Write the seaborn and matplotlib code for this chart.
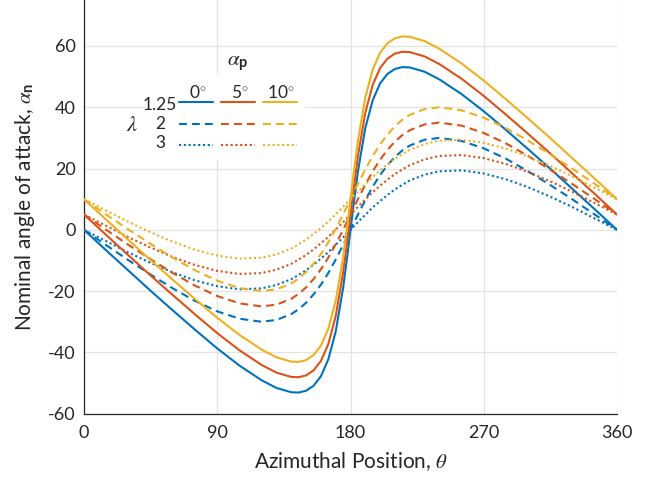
import matplotlib
matplotlib.use("Agg")
import matplotlib.pyplot as plt
from matplotlib.lines import Line2D
from matplotlib.patches import Rectangle
import numpy as np
import pandas as pd
import seaborn as sns

# ---------------- data ----------------
theta = [0, 15, 30, 45, 60, 75, 90, 105, 120, 130, 140, 145, 150, 155, 160, 165, 170, 175, 178, 180,
         182, 185, 190, 195, 200, 205, 210, 215, 220, 230, 240, 255, 270, 285, 300, 315, 330, 345, 360]

# lambda = 1.25
l125_p0 = [0, -6.7, -13.3, -19.9, -26.3, -32.6, -38.7, -44.3, -49.1, -51.6, -53.0, -53.1, -52.5, -50.9, -47.8, -42.3, -33.2, -19.0, -7.9, 0,
           7.9, 19.0, 33.2, 42.3, 47.8, 50.9, 52.5, 53.1, 53.0, 51.6, 49.1, 44.3, 38.7, 32.6, 26.3, 19.9, 13.3, 6.7, 0]
l125_p5 = [5, -1.7, -8.3, -14.9, -21.3, -27.6, -33.7, -39.3, -44.1, -46.6, -48.0, -48.1, -47.5, -45.9, -42.8, -37.3, -28.2, -14.0, -2.9, 5,
           12.9, 24.0, 38.2, 47.3, 52.8, 55.9, 57.5, 58.1, 58.0, 56.6, 54.1, 49.3, 43.7, 37.6, 31.3, 24.9, 18.3, 11.7, 5]
l125_p10 = [10, 3.3, -3.3, -9.9, -16.3, -22.6, -28.7, -34.3, -39.1, -41.6, -43.0, -43.1, -42.5, -40.9, -37.8, -32.3, -23.2, -9.0, 2.1, 10,
            17.9, 29.0, 43.2, 52.3, 57.8, 60.9, 62.5, 63.1, 63.0, 61.6, 59.1, 54.3, 48.7, 42.6, 36.3, 29.9, 23.3, 16.7, 10]
# lambda = 2
l2_p0 = [0, -5.0, -9.9, -14.6, -19.1, -23.2, -26.6, -29.0, -30.0, -29.4, -27.5, -25.9, -23.8, -21.1, -17.9, -14.1, -9.7, -5.0, -2.0, 0,
         2.0, 5.0, 9.7, 14.1, 17.9, 21.1, 23.8, 25.9, 27.5, 29.4, 30.0, 29.0, 26.6, 23.2, 19.1, 14.6, 9.9, 5.0, 0]
l2_p5 = [5, 0.0, -4.9, -9.6, -14.1, -18.2, -21.6, -24.0, -25.0, -24.4, -22.5, -20.9, -18.8, -16.1, -12.9, -9.1, -4.7, 0.0, 3.0, 5,
         7.0, 10.0, 14.7, 19.1, 22.9, 26.1, 28.8, 30.9, 32.5, 34.4, 35.0, 34.0, 31.6, 28.2, 24.1, 19.6, 14.9, 10.0, 5]
l2_p10 = [10, 5.0, 0.1, -4.6, -9.1, -13.2, -16.6, -19.0, -20.0, -19.4, -17.5, -15.9, -13.8, -11.1, -7.9, -4.1, 0.3, 5.0, 8.0, 10,
          12.0, 15.0, 19.7, 24.1, 27.9, 31.1, 33.8, 35.9, 37.5, 39.4, 40.0, 39.0, 36.6, 33.2, 29.1, 24.6, 19.9, 15.0, 10]
# lambda = 3
l3_p0 = [0, -3.7, -7.4, -10.8, -13.9, -16.5, -18.4, -19.4, -19.1, -18.0, -16.1, -14.7, -13.2, -11.4, -9.4, -7.3, -4.9, -2.5, -1.0, 0,
         1.0, 2.5, 4.9, 7.3, 9.4, 11.4, 13.2, 14.7, 16.1, 18.0, 19.1, 19.4, 18.4, 16.5, 13.9, 10.8, 7.4, 3.7, 0]
l3_p5 = [5, 1.3, -2.4, -5.8, -8.9, -11.5, -13.4, -14.4, -14.1, -13.0, -11.1, -9.7, -8.2, -6.4, -4.4, -2.3, 0.1, 2.5, 4.0, 5,
         6.0, 7.5, 9.9, 12.3, 14.4, 16.4, 18.2, 19.7, 21.1, 23.0, 24.1, 24.4, 23.4, 21.5, 18.9, 15.8, 12.4, 8.7, 5]
l3_p10 = [10, 6.3, 2.6, -0.8, -3.9, -6.5, -8.4, -9.4, -9.1, -8.0, -6.1, -4.7, -3.2, -1.4, 0.6, 2.7, 5.1, 7.5, 9.0, 10,
          11.0, 12.5, 14.9, 17.3, 19.4, 21.4, 23.2, 24.7, 26.1, 28.0, 29.1, 29.4, 28.4, 26.5, 23.9, 20.8, 17.4, 13.7, 10]

lambdas = ["1.25", "2", "3"]
pitch = ["0", "5", "10"]
series = {
    ("1.25", "0"): l125_p0, ("1.25", "5"): l125_p5, ("1.25", "10"): l125_p10,
    ("2", "0"): l2_p0, ("2", "5"): l2_p5, ("2", "10"): l2_p10,
    ("3", "0"): l3_p0, ("3", "5"): l3_p5, ("3", "10"): l3_p10,
}
xticks = [0, 90, 180, 270, 360]
yticks = [-60, -40, -20, 0, 20, 40, 60]

rows = []
for (lam, ap), vals in series.items():
    for t, v in zip(theta, vals):
        rows.append({"theta": t, "alpha": v, "lam": lam, "ap": ap})
df = pd.DataFrame(rows)

# ---------------- style ----------------
sns.set_theme(style="white")
plt.rcParams["font.family"] = ["Lato", "DejaVu Sans"]
plt.rcParams["mathtext.fontset"] = "custom"
plt.rcParams["mathtext.rm"] = "Lato"
plt.rcParams["mathtext.it"] = "STIXGeneral:italic"
plt.rcParams["mathtext.bf"] = "Lato:bold"
plt.rcParams["axes.unicode_minus"] = False

colors = {"0": "#0072BD", "5": "#D95319", "10": "#EDB120"}
dashes = {"1.25": "", "2": (3.8, 2.4), "3": (1.0, 1.3)}

W, H = 658, 478
fig = plt.figure(figsize=(W / 100, H / 100), dpi=100)
ax_l, ax_r, ax_b, ax_t = 84, 617, 413.7, 0
ax = fig.add_axes([ax_l / W, 1 - ax_b / H, (ax_r - ax_l) / W, (ax_b - ax_t) / H])

sns.lineplot(data=df, x="theta", y="alpha", hue="ap", style="lam",
             hue_order=pitch, style_order=lambdas, palette=colors, dashes=dashes,
             linewidth=1.5, estimator=None, sort=False, legend=False, ax=ax, zorder=3)

ax.set_xlim(0, 360)
ax.set_ylim(-60, 75)
ax.set_xticks(xticks)
ax.set_yticks(yticks)
ax.grid(True, color="#e3e3e3", linewidth=0.9, zorder=0)
ax.set_axisbelow(True)
for s in ["top", "right"]:
    ax.spines[s].set_visible(False)
for s in ["left", "bottom"]:
    ax.spines[s].set_color("#262626")
    ax.spines[s].set_linewidth(0.9)
ax.tick_params(direction="in", length=5, width=0.9, color="#262626",
               labelsize=13, labelcolor="#262626", pad=6)
ax.tick_params(axis="x", pad=8)

ax.set_xlabel(r"Azimuthal Position, $\theta$", fontsize=15, color="#262626", labelpad=7)
ax.set_ylabel(r"Nominal angle of attack, $\alpha_{\mathbf{n}}$", fontsize=15, color="#262626", labelpad=8)

# ---------------- legend ----------------
def fx(px):
    return (px - ax_l) / (ax_r - ax_l)

def fy(py):
    return (ax_b - py) / (ax_b - ax_t)

ax.add_patch(Rectangle((fx(145), fy(160)), fx(305) - fx(145), fy(75) - fy(160),
                       transform=ax.transAxes, facecolor="white", edgecolor="none", zorder=4))

handles = []
for ap in pitch:
    for lam in lambdas:
        d = dashes[lam]
        h = Line2D([], [], color=colors[ap], linewidth=1.5)
        if d != "":
            h.set_dashes(d)
        handles.append(h)
leg = ax.legend(handles, [""] * 9, ncol=3, loc="upper left",
                bbox_to_anchor=(fx(179), fy(97)), frameon=False, fontsize=10,
                handlelength=2.45, handletextpad=0.0, columnspacing=0.58,
                labelspacing=0.68, borderpad=0, borderaxespad=0)
leg.set_zorder(5)

tc = "#262626"
for ap, px in zip(pitch, [198, 240, 281]):
    ax.text(fx(px), fy(93), ap + r"$^{\circ}$", transform=ax.transAxes, ha="center",
            va="center", fontsize=12.5, color=tc, zorder=6)
for lam, py in zip(lambdas, [105, 124, 143]):
    ax.text(fx(160), fy(py), lam, transform=ax.transAxes, ha="center", va="center",
            fontsize=12.5, color=tc, zorder=6)
ax.text(fx(132), fy(125), r"$\lambda$", transform=ax.transAxes, ha="center", va="center",
        fontsize=16, color=tc, zorder=6)
ax.text(fx(238), fy(63), r"$\alpha_{\mathbf{p}}$", transform=ax.transAxes, ha="center",
        va="center", fontsize=15, color=tc, zorder=6)

fig.savefig("out.png", dpi=100)
